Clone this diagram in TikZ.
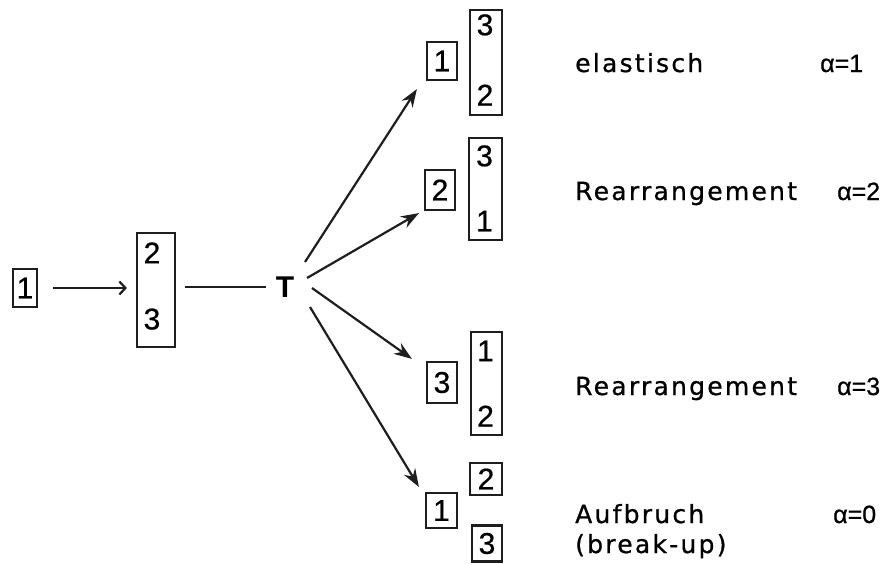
\documentclass[tikz,border=0pt]{standalone}
\usepackage{fontspec}
\setmainfont{Liberation Sans}
\newfontfamily\spacedfont[LetterSpace=9,FakeBold=0.8]{DejaVu Sans}
\newfontfamily\indexfont[FakeBold=0.8]{Liberation Sans}
\newfontfamily\numfont[FakeBold=0.6]{Liberation Sans}
\usetikzlibrary{arrows.meta,calc}
\definecolor{ink}{HTML}{1E1E1E}
\newcommand\dgfont{\numfont\fontsize{30}{36}\selectfont}
\newcommand\lblfont{\spacedfont\fontsize{25}{30}\selectfont}
\newcommand\idxfont{\indexfont\fontsize{25}{30}\selectfont}

\begin{document}
\begin{tikzpicture}[x=1pt,y=-1pt,
  cell/.style={draw=ink, line width=2.2pt, inner sep=0pt,
               minimum width=30pt, minimum height=38pt, font=\dgfont},
  column/.style={draw=ink, line width=2.2pt, inner sep=0pt,
               minimum width=32pt, minimum height=104pt},
  digit/.style={inner sep=0pt, font=\dgfont},
  ray/.style={draw=ink, line width=2.2pt,
              -{Stealth[length=18pt,width=13pt,inset=6pt]}},
  feed/.style={draw=ink, line width=2.2pt,
              -{Straight Barb[length=6pt,width=13pt,line width=2.2pt]}},
  lbl/.style={anchor=base west, inner sep=0pt, font=\lblfont},
  idx/.style={anchor=base west, inner sep=0pt, font=\idxfont}]
\useasboundingbox (0,0) rectangle (887,563);

% incoming particle and target pair
\node[cell, minimum width=24pt] (a1) at (25,288) {1};
\node[column, minimum width=38pt, minimum height=114pt] (ab) at (156,290) {};
\node[digit] (abt) at ($(ab.north)+(-4,21)$) {2};
\node[digit] (abb) at ($(ab.south)+(-4,-29)$) {3};
\node[inner sep=0pt, font=\fontsize{30}{36}\selectfont\bfseries] (T) at (285,287) {T};

\draw[feed, shorten <=15pt, shorten >=9pt] (a1) -- (a1 -| ab.west);
\draw[draw=ink, line width=2.2pt, shorten <=9pt, shorten >=10pt] (ab.east |- T) -- (T.west);

% channel 1: elastic
\node[cell] (b1) at (442,61) {1};
\node[column, minimum height=105pt] (c1) at (486,62.5) {};
\node[digit] (c1t) at ($(c1.north)+(-1,16)$) {3};
\node[digit] (c1b) at ($(c1.south)+(-1,-21)$) {2};

% channel 2: rearrangement
\node[cell, minimum height=40pt] (b2) at (440,190) {2};
\node[column, minimum width=33pt, minimum height=102pt] (c2) at (485.5,189) {};
\node[digit] (c2t) at ($(c2.north)+(-1,19)$) {3};
\node[digit] (c2b) at ($(c2.south)+(-1,-20)$) {1};

% channel 3: rearrangement
\node[cell, minimum height=41pt] (b3) at (442,382.5) {3};
\node[column, minimum width=31pt, minimum height=103pt] (c3) at (486.5,383.5) {};
\node[digit] (c3t) at ($(c3.north)+(-1,20)$) {1};
\node[digit] (c3b) at ($(c3.south)+(-1,-20)$) {2};

% channel 0: break-up
\node[cell, minimum width=31pt, minimum height=35pt] (b4) at (441.5,510.5) {1};
\node[cell, minimum width=32pt, minimum height=32pt] (d2) at (486,479) {2};
\node[cell, minimum height=36pt] (d3) at (487,543.5) {3};

% rays from the collision point
\coordinate (s1) at ($(T)+(20,-25)$);
\coordinate (s2) at ($(T)+(22,-9)$);
\coordinate (s3) at ($(T)+(27,1)$);
\coordinate (s4) at ($(T)+(25,20)$);
\draw[ray] (s1) -- ($(b1.south west)+(-9,8)$);
\draw[ray] (s2) -- ($(b2.south west)+(-5,2)$);
\draw[ray] (s3) -- ($(b3.north west)+(-14,-2)$);
\draw[ray] (s4) -- ($(b4.north west)+(-6,-5)$);

% channel names and arrangement index
\node[lbl] (n1) at (575,72) {elastisch};
\node[idx] (k1) at (820,72) {α=1};
\node[lbl] (n2) at (575,200) {Rearrangement};
\node[idx] (k2) at (837,200) {α=2};
\node[lbl] (n3) at (575,395) {Rearrangement};
\node[idx] (k3) at (837,395) {α=3};
\node[lbl] (n4) at (575,523) {Aufbruch};
\node[lbl] (n4b) at (575,553) {(break-up)};
\node[idx] (k4) at (833,523) {α=0};
\end{tikzpicture}
\end{document}
